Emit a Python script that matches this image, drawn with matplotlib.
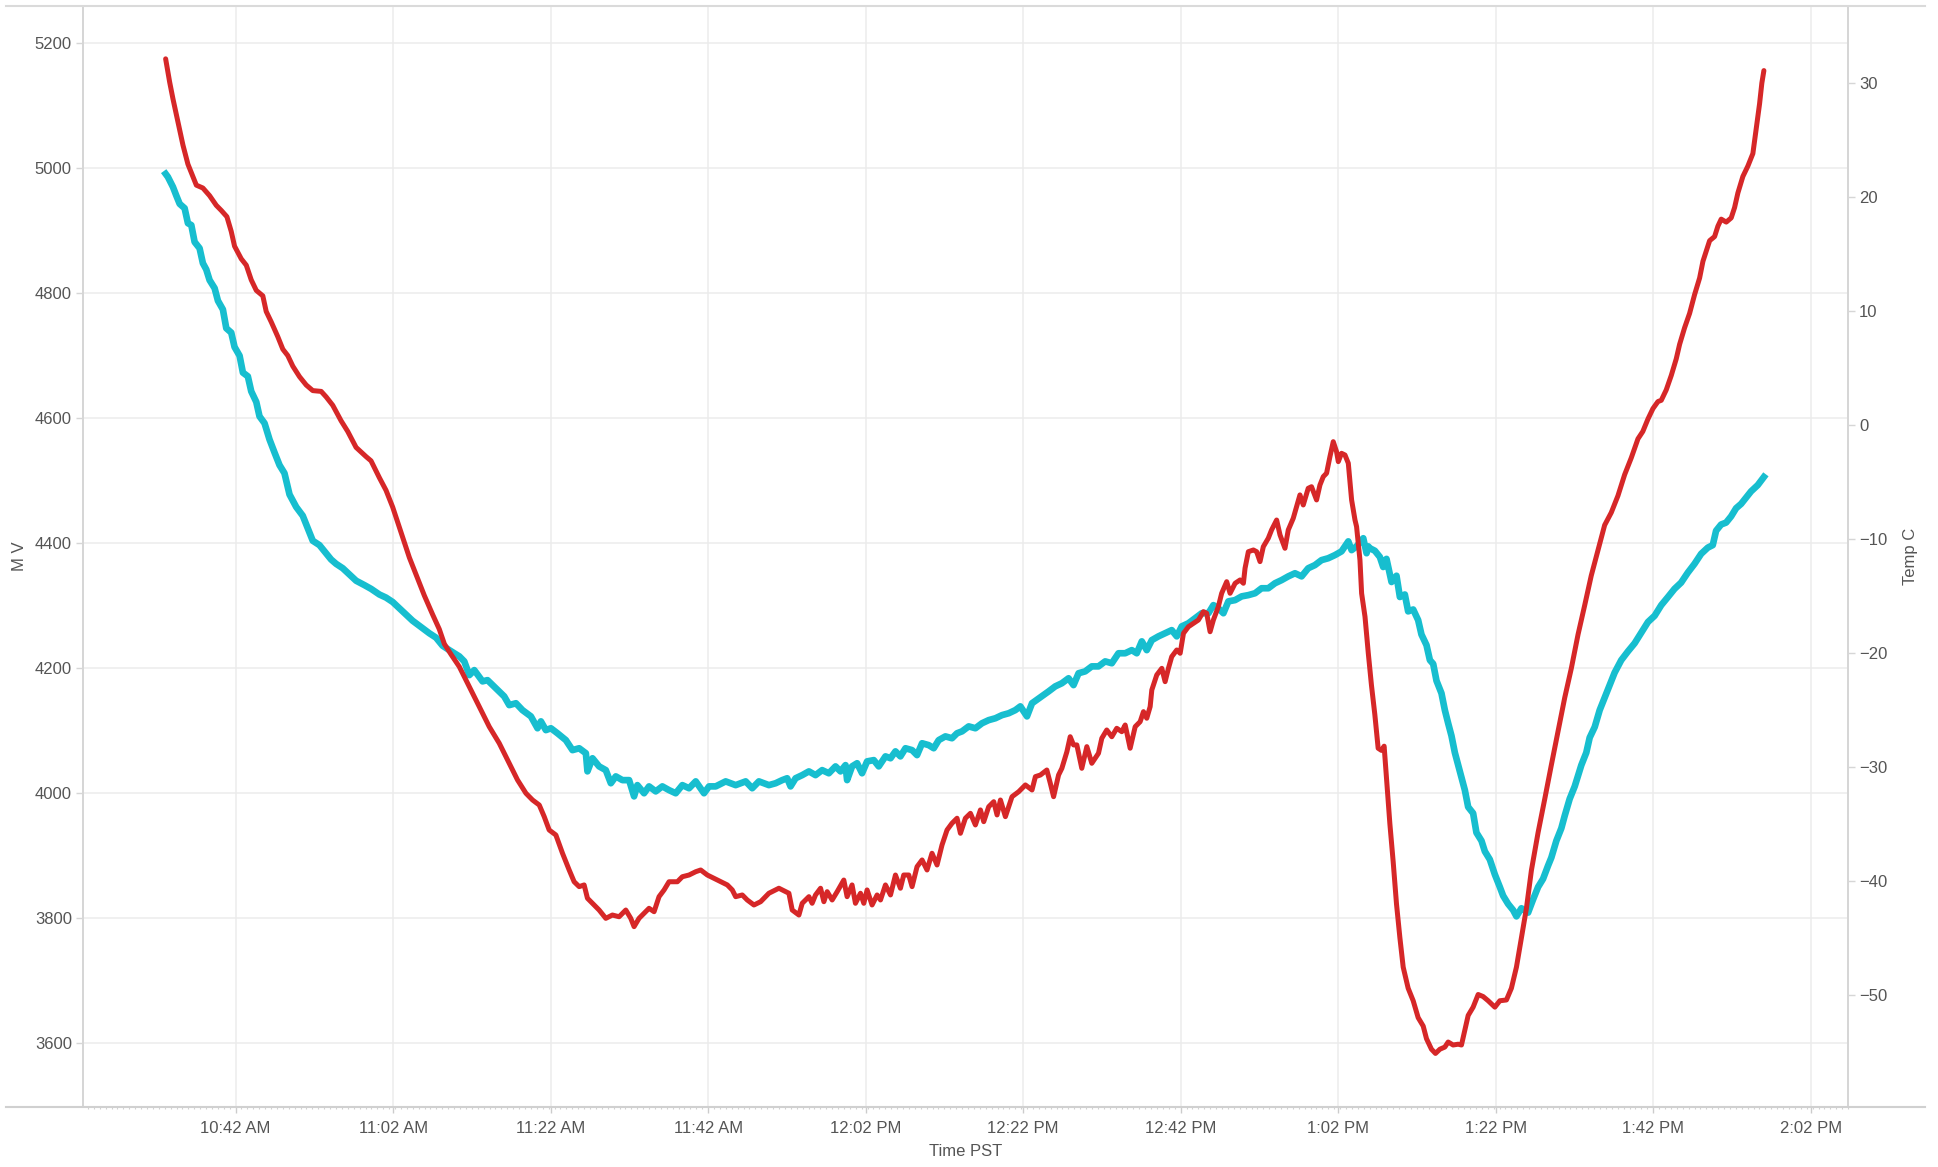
import matplotlib.pyplot as plt
from matplotlib.lines import Line2D
from matplotlib.ticker import FixedLocator, MultipleLocator

plt.rcParams['font.family'] = ['Liberation Sans', 'DejaVu Sans']

# time axis: minutes after 10:00 AM
mv_time = [
    33.12, 33.41, 34.05, 34.48, 34.9, 35.53, 35.95, 36.38, 36.8, 37.43, 37.85, 38.28,
    38.7, 39.34, 39.76, 40.39, 40.82, 41.45, 41.87, 42.51, 42.93, 43.56, 43.99, 44.63,
    45.04, 45.68, 46.31, 46.95, 47.58, 48.21, 48.85, 49.7, 50.53, 51.17, 51.8, 52.65,
    53.29, 54.13, 54.77, 55.61, 56.46, 57.31, 58.36, 59.21, 60.26, 61.11, 61.95, 62.8,
    63.65, 64.48, 65.55, 66.6, 67.45, 68.29, 69.14, 70.41,
    71.04, 71.68, 72.31, 73.36, 73.99, 75.06, 76.11, 76.75, 77.6, 78.43, 79.5, 80.34,
    80.77, 81.4, 82.04, 82.87, 83.94, 84.78, 85.63, 86.48, 86.68, 87.32, 88.16, 89.01,
    89.65, 90.28, 91.12, 91.97, 92.6, 93.02, 93.87, 94.5, 95.35, 96.19, 97.04, 97.89,
    98.73, 99.58, 100.43, 101.48, 102.12, 102.97, 104.23, 105.5, 106.77, 107.6, 108.45, 109.72,
    110.57, 111.41, 112.04, 112.47, 113.11, 113.95, 114.8, 115.64, 116.48, 117.33, 118.18, 118.81,
    119.45, 119.65, 120.28, 120.92, 121.55, 122.19, 123.04, 123.67, 124.52, 125.16, 125.79, 126.42,
    127.06, 127.9, 128.53, 129.17, 130.01, 130.65, 131.28, 132.13, 132.97, 133.61, 134.24, 135.09,
    135.94, 136.78, 137.63, 138.48, 139.32, 140.17, 141.01, 141.65, 142.49, 143.13,
    145.24, 146.08, 146.92, 147.77, 148.4, 149.04, 149.88, 150.72, 151.57, 152.42, 153.26, 154.11,
    154.96, 155.8, 156.43, 157.07, 157.7, 158.34, 159.18, 160.03, 160.87, 161.51, 162.14, 162.99,
    163.84, 164.68, 165.53, 166.16, 166.79, 167.43, 168.06, 168.91, 169.75, 170.6, 171.45, 172.28,
    173.13, 173.98, 174.82, 175.67, 176.52, 177.36, 178.2, 179.05, 179.89, 180.74, 181.59, 182.43,
    183.29, 183.71, 184.34, 185.19, 185.61, 185.83,
    186.03, 186.66, 187.3, 187.72, 188.14, 188.78, 189.41, 189.84, 190.47, 190.89, 191.53, 192.16,
    192.58, 193.22, 193.65, 194.07, 194.49, 195.12, 195.55, 195.97, 196.39, 196.82, 197.24, 197.66,
    198.09, 198.51, 199.14, 199.56, 200.2, 200.63, 201.26, 201.9, 202.53, 202.95, 203.58, 204.22,
    204.64, 205.27, 206.12, 206.75, 207.39, 208.02, 208.65, 209.07, 209.71, 210.34, 210.77, 211.4,
    212.04, 212.46, 212.88, 213.51, 213.94, 214.58, 215.21, 215.84, 216.48, 217.11, 217.95, 218.8,
    219.65, 220.49, 221.34, 222.19, 223.03, 223.88,
    224.71, 225.55, 226.4, 227.25, 228.09, 228.94, 229.57, 229.99, 230.63, 231.26, 231.9, 232.53,
    233.17, 233.8, 234.43, 235.28, 236.06,
]
mv_values = [
    4991, 4986, 4970, 4956, 4943, 4936, 4912, 4909, 4882, 4872, 4848, 4838,
    4821, 4808, 4788, 4774, 4744, 4737, 4714, 4700, 4673, 4667, 4643, 4626,
    4603, 4592, 4566, 4545, 4525, 4512, 4478, 4458, 4444, 4424, 4404, 4397,
    4387, 4374, 4367, 4360, 4350, 4340, 4333, 4327, 4318, 4313, 4306, 4296,
    4286, 4276, 4266, 4256, 4249, 4236, 4229, 4219,
    4211, 4189, 4197, 4179, 4181, 4168, 4155, 4141, 4144, 4133, 4123, 4104,
    4115, 4101, 4104, 4096, 4085, 4069, 4072, 4064, 4035, 4056, 4043, 4037,
    4016, 4027, 4021, 4021, 3995, 4013, 4000, 4011, 4003, 4011, 4005, 4000,
    4013, 4008, 4019, 4000, 4011, 4011, 4019, 4013, 4019, 4008, 4019, 4013,
    4016, 4021, 4024, 4011, 4024, 4029, 4035, 4029, 4037, 4032, 4043, 4035,
    4045, 4021, 4043, 4048, 4032, 4051, 4053, 4043, 4059, 4056, 4067, 4059,
    4072, 4069, 4061, 4080, 4077, 4072, 4085, 4091, 4088, 4096, 4099, 4107,
    4104, 4112, 4117, 4120, 4125, 4128, 4133, 4139, 4123, 4144,
    4163, 4171, 4176, 4184, 4173, 4192, 4195, 4203, 4203, 4211, 4208, 4224,
    4224, 4229, 4224, 4243, 4229, 4245, 4251, 4256, 4261, 4251, 4267, 4272,
    4280, 4288, 4288, 4301, 4296, 4288, 4307, 4309, 4315, 4317, 4320, 4328,
    4328, 4336, 4341, 4347, 4352, 4347, 4360, 4365, 4373, 4376, 4381, 4387,
    4403, 4389, 4395, 4408, 4384, 4395,
    4392, 4388, 4378, 4362, 4375, 4338, 4348, 4314, 4318, 4291, 4294, 4277,
    4254, 4237, 4213, 4207, 4180, 4160, 4133, 4112, 4092, 4065, 4045, 4025,
    4005, 3978, 3968, 3937, 3924, 3907, 3894, 3870, 3850, 3836, 3823, 3813,
    3803, 3816, 3809, 3830, 3850, 3863, 3884, 3897, 3924, 3944, 3964, 3991,
    4011, 4028, 4045, 4065, 4089, 4106, 4133, 4153, 4173, 4193, 4213, 4227,
    4240, 4257, 4274, 4284, 4301, 4314,
    4327, 4337, 4353, 4367, 4383, 4393, 4397, 4420, 4430, 4433, 4443, 4456,
    4463, 4473, 4483, 4493, 4506,
]

temp_time = [
    33.12, 33.63, 34.05, 34.68, 35.32, 35.95, 37.02, 37.85, 38.7, 39.55, 40.19, 40.9,
    41.45, 41.87, 42.72, 43.36, 43.99, 44.63, 45.46, 45.89, 46.53, 47.36, 48.0, 48.63,
    49.27, 50.12, 50.97, 51.8, 52.87, 53.5, 54.34, 55.4, 56.24, 57.3, 58.57, 59.2,
    60.26, 61.1, 61.95, 63.01, 64.07, 64.92, 65.97, 67.02, 67.87, 68.51, 69.36,
    70.41, 71.68, 72.94, 74.21, 75.48, 76.75, 77.8, 78.87, 79.71, 80.56, 81.19, 81.82,
    82.67, 83.51, 84.36, 84.99, 85.63, 86.26, 86.68, 87.32, 88.16, 89.01, 89.85, 90.7,
    91.55, 92.18, 92.6, 93.23, 93.87, 94.5, 95.14, 95.77, 96.41, 97.04, 98.1, 98.73,
    99.58, 100.43, 101.06, 101.9, 102.75, 103.6, 104.44, 105.07, 105.5, 106.34, 106.97, 107.82,
    108.67, 109.72,
    110.99, 111.84, 112.26, 112.68, 113.53, 113.95, 114.8, 115.21, 115.64, 116.28, 116.7, 117.12,
    117.75, 118.39, 119.23, 119.65, 120.28, 120.71, 121.35, 121.77, 122.19, 122.82, 123.46, 123.89,
    124.52, 125.16, 125.79, 126.42, 126.84, 127.48, 127.9, 128.53, 129.17, 129.8, 130.43, 131.07,
    131.7, 132.34, 132.97, 133.61, 134.04, 134.67, 135.31, 135.94, 136.58, 137.0, 137.63, 138.27,
    138.69, 139.12, 139.75, 140.59, 141.44, 142.29, 143.13, 143.56, 144.19, 145.01, 145.45, 145.87,
    146.5, 146.92,
    147.56, 147.98, 148.4, 148.82, 149.45, 150.09, 150.72, 151.57, 151.99, 152.62, 153.26, 153.89,
    154.53, 154.96, 155.59, 156.23, 156.86, 157.28, 157.7, 158.13, 158.34, 158.97, 159.61, 160.03,
    160.45, 160.87, 161.51, 161.94, 162.36, 162.99, 163.63, 164.26, 164.89, 165.31, 165.74, 166.16,
    166.79, 167.21, 167.85, 168.28, 168.92, 169.55, 169.97, 170.18, 170.6, 171.24, 171.65, 172.08,
    172.5, 173.13, 173.55, 174.19, 174.62, 175.25, 175.67, 176.3, 176.72, 177.15, 177.57, 178.2,
    178.62, 179.26, 179.69, 180.11, 180.53, 180.96, 181.38, 181.8, 182.02, 182.43, 182.87, 183.29,
    183.71, 184.14, 184.34, 184.77, 184.98, 185.41, 185.83,
    186.23, 186.66, 187.08, 187.5, 187.84, 188.14, 188.57, 188.99, 189.41, 189.84, 190.26, 190.89,
    191.53, 192.16, 192.8, 193.22, 193.85, 194.36, 194.92, 195.55, 195.97, 196.6, 197.24, 197.66,
    198.09, 198.51, 199.14, 199.78, 200.41, 201.05, 201.9, 202.53, 203.37, 204.0, 204.64, 205.27,
    205.91, 206.54, 207.39, 208.24, 209.07, 209.92, 210.77, 211.61, 212.46, 213.31, 214.14, 214.99,
    215.84, 216.68, 217.53, 218.38, 219.22, 220.07,
    220.69, 221.34, 221.97, 222.61, 223.03, 223.66, 224.3, 224.93, 225.36, 225.99, 226.63, 227.26,
    227.9, 228.32, 228.74, 229.17, 229.8, 230.22, 230.64, 231.28, 231.91, 232.34, 232.76, 233.39,
    234.03, 234.66, 235.08, 235.51, 235.8, 236.06,
]
temp_values = [
    32.14, 30.1, 28.63, 26.6, 24.57, 22.9, 21.06, 20.81, 20.14, 19.29, 18.84, 18.29,
    17.0, 15.71, 14.6, 14.04, 12.75, 11.83, 11.35, 9.98, 9.06, 7.77, 6.67, 6.11,
    5.18, 4.26, 3.53, 3.04, 2.97, 2.49, 1.75, 0.39, -0.54, -1.94, -2.75, -3.12,
    -4.6, -5.7, -7.18, -9.39, -11.61, -13.09, -14.94, -16.6, -17.89, -19.18, -20.1,
    -21.18, -22.93, -24.68, -26.44, -27.89, -29.65, -31.11, -32.28, -32.87, -33.31, -34.33, -35.5,
    -35.94, -37.54, -39.01, -40.04, -40.47, -40.32, -41.49, -41.93, -42.52, -43.25, -42.96, -43.11,
    -42.52, -43.25, -43.98, -43.25, -42.81, -42.37, -42.67, -41.35, -40.76, -40.04, -40.04, -39.6,
    -39.45, -39.16, -39.01, -39.45, -39.74, -40.04, -40.32, -40.76, -41.35, -41.2, -41.64, -42.08,
    -41.79, -41.05,
    -40.61, -40.91, -41.05, -42.52, -42.96, -41.93, -41.35, -41.93, -41.2, -40.61, -41.79, -40.91,
    -41.64, -40.91, -39.89, -41.35, -40.32, -41.93, -41.05, -41.93, -40.76, -42.08, -41.2, -41.64,
    -40.32, -41.2, -39.45, -40.61, -39.45, -39.45, -40.47, -38.72, -38.13, -39.01, -37.54, -38.57,
    -36.82, -35.5, -34.91, -34.47, -35.79, -34.47, -34.04, -35.06, -33.74, -34.77, -33.46, -33.02,
    -34.18, -32.87, -34.33, -32.58, -32.14, -31.55, -31.99, -30.82, -30.68, -30.24, -31.4, -32.58,
    -30.68, -30.09,
    -28.63, -27.32, -28.04, -28.04, -30.09, -28.19, -29.65, -28.77, -27.46, -26.73, -27.32, -26.58,
    -26.88, -26.29, -28.33, -26.44, -26.0, -25.12, -25.7, -24.68, -23.22, -21.9, -21.32, -22.49,
    -21.32, -20.3, -19.71, -20.0, -18.25, -17.67, -17.37, -17.08, -16.35, -16.49, -18.11, -17.08,
    -15.91, -14.74, -13.72, -14.74, -13.86, -13.57, -13.86, -12.54, -11.09, -10.94, -11.09, -11.96,
    -10.65, -9.91, -9.18, -8.31, -9.62, -10.79, -9.18, -8.16, -7.14, -6.11, -6.99, -5.53,
    -5.39, -6.55, -5.24, -4.51, -4.21, -2.75, -1.44, -2.32, -3.19, -2.46, -2.61, -3.33,
    -6.55, -8.31, -8.89, -11.82, -14.74, -16.79, -20.0,
    -22.8, -25.38, -28.33, -28.52, -28.15, -30.91, -34.97, -38.3, -41.99, -44.95, -47.53, -49.38,
    -50.48, -51.96, -52.7, -53.81, -54.73, -55.1, -54.73, -54.54, -54.1, -54.36, -54.29, -54.36,
    -53.07, -51.77, -51.04, -49.93, -50.11, -50.48, -51.04, -50.48, -50.41, -49.38, -47.53, -44.95,
    -42.36, -39.04, -35.72, -32.76, -29.81, -26.85, -23.9, -21.32, -18.36, -15.78, -13.19, -10.98,
    -8.76, -7.66, -6.18, -4.33, -2.86, -1.19,
    -0.54, 0.55, 1.46, 2.08, 2.19, 3.1, 4.37, 5.82, 7.1, 8.55, 9.82, 11.46,
    12.92, 14.38, 15.28, 16.19, 16.55, 17.46, 18.08, 17.82, 18.19, 19.1, 20.38, 21.82,
    22.74, 23.83, 26.01, 28.19, 30.01, 31.11,
]

tick_minutes = [42, 62, 82, 102, 122, 142, 162, 182, 202, 222, 242]
tick_labels = ['10:42 AM', '11:02 AM', '11:22 AM', '11:42 AM', '12:02 PM', '12:22 PM',
               '12:42 PM', '1:02 PM', '1:22 PM', '1:42 PM', '2:02 PM']
mv_ticks = [3600, 3800, 4000, 4200, 4400, 4600, 4800, 5000, 5200]
temp_ticks = [-50, -40, -30, -20, -10, 0, 10, 20, 30]

text_col = '#555555'
axis_col = '#d6d6d6'

fig = plt.figure(figsize=(19.38, 11.67), dpi=100)
ax = fig.add_axes([0.0428, 0.0514, 0.9108, 0.9437])
ax2 = ax.twinx()

ax.plot(mv_time, mv_values, color='#17becf', lw=4.8, solid_joinstyle='round')
ax2.plot(temp_time, temp_values, color='#d62728', lw=3.6, solid_joinstyle='round',
         solid_capstyle='round')

ax.set_xlim(22.62, 246.75)
ax.set_ylim(3498, 5260)
ax2.set_ylim(-59.8, 36.8)

ax.xaxis.set_major_locator(FixedLocator(tick_minutes))
ax.set_xticklabels(tick_labels)
ax.xaxis.set_minor_locator(MultipleLocator(0.75))
ax.set_yticks(mv_ticks)
ax2.set_yticks(temp_ticks)

ax.grid(True, which='major', color='#ececec', lw=1.1)
ax.set_axisbelow(True)

for a in (ax, ax2):
    a.spines['top'].set_visible(False)
    a.spines['bottom'].set_visible(False)
    a.spines['left'].set_color(axis_col)
    a.spines['right'].set_color(axis_col)
    a.spines['left'].set_linewidth(1.3)
    a.spines['right'].set_linewidth(1.3)

ax.tick_params(axis='x', which='major', length=4, width=1, color='#cccccc',
               labelsize=12, labelcolor=text_col, pad=6)
ax.tick_params(axis='x', which='minor', length=1.5, width=0.8, color='#d0d0d0')
ax.tick_params(axis='y', length=5, width=1, color='#d6d6d6', labelsize=12,
               labelcolor=text_col, pad=3)
ax2.tick_params(axis='y', length=5, width=1, color='#d6d6d6', labelsize=12,
                labelcolor=text_col, pad=3)

ax.set_xlabel('Time PST', fontsize=12, color=text_col, va='center')
ax.xaxis.set_label_coords(0.5, -0.040)
ax.set_ylabel('M V', fontsize=12, color=text_col, va='center')
ax.yaxis.set_label_coords(-0.0357, 0.5)
ax2.set_ylabel('Temp C', fontsize=12, color=text_col, va='center')
ax2.yaxis.set_label_coords(1.0354, 0.5)

# outer frame lines above and below the plot
for yy, col in ((0.9951, '#dadada'), (0.0514, '#d0d0d0')):
    fig.add_artist(Line2D([0.0031, 0.9933], [yy, yy], transform=fig.transFigure,
                          color=col, lw=1.5))

fig.savefig('out.png', dpi=100)
